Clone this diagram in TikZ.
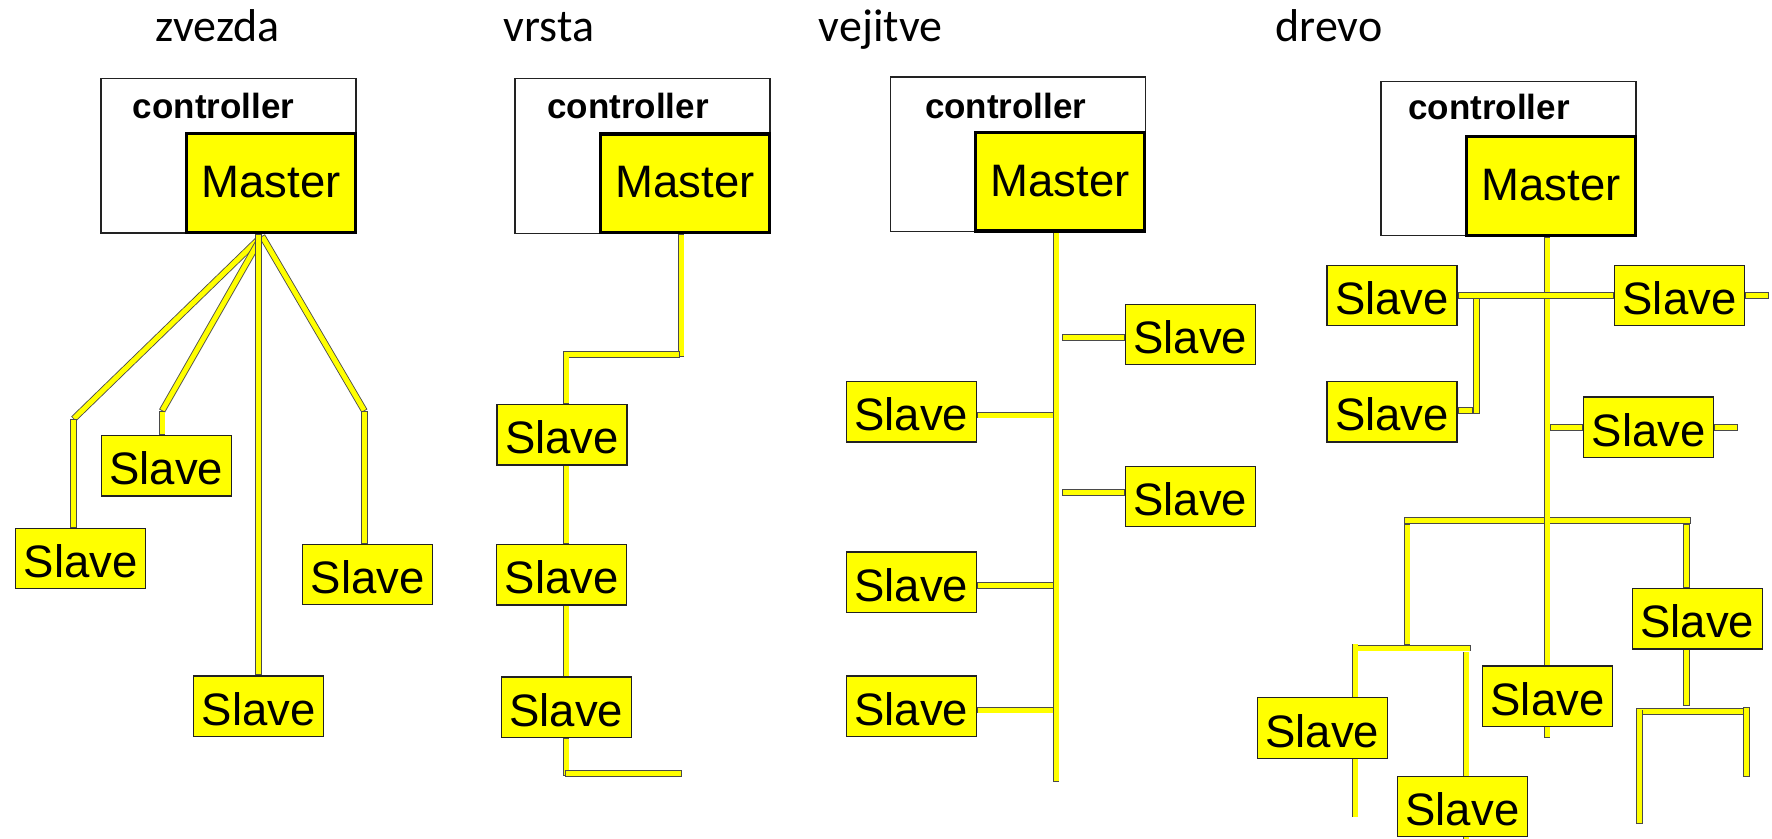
\documentclass[tikz,border=0pt]{standalone}
\usepackage{fontspec}
\setmainfont{Liberation Sans}
\newfontfamily\titlefont{Carlito}
\usetikzlibrary{backgrounds}
\definecolor{busyellow}{HTML}{FFFF00}
\definecolor{barline}{HTML}{4A4A4A}
\definecolor{boxline}{HTML}{222222}

\tikzset{
  bar/.style={draw=barline, line width=0.85pt, double=busyellow, double distance=5pt,
    line cap=rect, shorten >=3.35pt, shorten <=3.35pt},
  slave/.style={draw=boxline, line width=1.3pt, fill=busyellow, inner sep=0pt,
    minimum width=130pt, minimum height=60.5pt, text height=38pt, text depth=0pt,
    font=\fontsize{45.5}{50}\selectfont},
  master/.style={draw=black, line width=3.2pt, fill=busyellow, inner sep=0pt,
    minimum width=169pt, minimum height=98.5pt, text height=28.6pt, text depth=0pt,
    font=\fontsize{45.5}{50}\selectfont},
  ctrlbox/.style={draw=boxline, line width=1.3pt, fill=white, inner sep=0pt,
    minimum width=255pt, minimum height=154.5pt},
  ctrltext/.style={font=\fontsize{35}{40}\selectfont\bfseries, anchor=base, inner sep=0pt},
  title/.style={font=\titlefont\fontsize{46}{50}\selectfont, anchor=base, inner sep=0pt},
}

\begin{document}
\begin{tikzpicture}[x=1pt,y=-1pt]
\useasboundingbox (0,0) rectangle (1772,838);

% ---------- titles ----------
\node[title] (tz) at (217.5,41) {zvezda};
\node[title] (tv) at (549,41) {vrsta};
\node[title] (tj) at (880.5,41) {vejitve};
\node[title] (td) at (1329,41) {drevo};

% ---------- controllers with master ----------
\node[ctrlbox] (zC) at (228.5,155.8) {};
\node[ctrlbox] (vC) at (642.5,156) {};
\node[ctrlbox] (jC) at (1017.7,154.2) {};
\node[ctrlbox] (dC) at (1508.4,158.4) {};
\node[ctrltext] (zCt) at (213.5,118.3) {controller};
\node[ctrltext] (vCt) at (628,118.3) {controller};
\node[ctrltext] (jCt) at (1005.7,118.3) {controller};
\node[ctrltext] (dCt) at (1489,119.5) {controller};
\node[master] (zM) at (271,183) {Master};
\node[master] (vM) at (685,183.3) {Master};
\node[master] (jM) at (1060.3,181.7) {Master};
\node[master] (dM) at (1551.2,185.9) {Master};

% ---------- star: slaves ----------
\node[slave] (zA) at (80.7,558.5) {Slave};
\node[slave] (zB) at (166.2,465.8) {Slave};
\node[slave] (zR) at (367.8,574.5) {Slave};
\node[slave] (zD) at (258.8,706.2) {Slave};

% ---------- line: slaves ----------
\node[slave] (v1) at (562,434.7) {Slave};
\node[slave] (v2) at (561.8,574.7) {Slave};
\node[slave] (v3) at (566.3,707.3) {Slave};

% ---------- bus with branches: slaves ----------
\node[slave] (jr1) at (1190.2,334.5) {Slave};
\node[slave] (jr2) at (1190.2,496.5) {Slave};
\node[slave] (jl1) at (911.3,411.7) {Slave};
\node[slave] (jl2) at (911.3,582.2) {Slave};
\node[slave] (jl3) at (911.3,706.3) {Slave};

% ---------- tree: slaves ----------
\node[slave] (dTL) at (1392.1,295.5) {Slave};
\node[slave] (dTR) at (1679.5,295.5) {Slave};
\node[slave] (dML) at (1392.1,411.8) {Slave};
\node[slave] (dMR) at (1648.8,427.3) {Slave};
\node[slave] (dR) at (1697.2,618.6) {Slave};
\node[slave] (dCn) at (1547.5,696.2) {Slave};
\node[slave] (dLL) at (1322.3,728) {Slave};
\node[slave] (dLR) at (1462.4,806.5) {Slave};

\begin{scope}[on background layer]
\fill[white] (0,0) rectangle (1772,838);

% ----- star cables -----
\coordinate (zhub) at (262,236);
\coordinate (zkA) at (73.5,419);
\coordinate (zkB) at (162,411);
\coordinate (zkR) at (364.5,411);
\draw[bar] (zhub) -- (zkA);
\draw[bar] (zkA) -- (zkA |- zA.north);
\draw[bar] (zhub) -- (zkB);
\draw[bar] (zkB) -- (zkB |- zB.north);
\draw[bar] (zhub) -- (zkR);
\draw[bar] (zkR) -- (zkR |- zR.north);
\draw[bar] (zD.north |- zM.south) -- (zD.north);

% ----- line cables -----
\coordinate (vk1) at (681,356.7);
\coordinate (vh1) at (566,354.5);
\coordinate (vh2) at (680,354.5);
\coordinate (vk2) at (566,351);
\coordinate (vend) at (566,775.5);
\coordinate (vt1) at (565.3,773.8);
\coordinate (vt2) at (681.7,773.8);
\draw[bar] (vk1 |- vM.south) -- (vk1);
\draw[bar] (vh1) -- (vh2);
\draw[bar] (vk2) -- (vk2 |- v1.north);
\draw[bar] (vk2 |- v1.south) -- (vk2 |- v2.north);
\draw[bar] (vk2 |- v2.south) -- (vk2 |- v3.north);
\draw[bar] (vk2 |- v3.south) -- (vend);
\draw[bar] (vt1) -- (vt2);

% ----- bus with branches -----
\coordinate (jb) at (1056,781.7);
\coordinate (js1) at (1062.3,337.7);
\coordinate (js2) at (1062.3,492.7);
\coordinate (jt1) at (1054.3,415);
\coordinate (jt2) at (1054.3,585.3);
\coordinate (jt3) at (1054.3,710);
\draw[bar] (jb |- jM.south) -- (jb);
\draw[bar] (js1) -- (js1 -| jr1.west);
\draw[bar] (js2) -- (js2 -| jr2.west);
\draw[bar] (jt1 -| jl1.east) -- (jt1);
\draw[bar] (jt2 -| jl2.east) -- (jt2);
\draw[bar] (jt3 -| jl3.east) -- (jt3);

% ----- tree -----
\coordinate (dh1) at (1404.2,520.4);
\coordinate (dh2) at (1691.3,520.4);
\coordinate (dtr) at (1547,737.6);
\coordinate (dTe) at (1769.3,295.5);
\coordinate (dk) at (1473,410.7);
\coordinate (db1) at (1476.7,298);
\coordinate (db2) at (1476.7,414);
\coordinate (dms) at (1550.2,427.3);
\coordinate (dme) at (1738.2,427.3);
\coordinate (dl1) at (1407,524);
\coordinate (dl2) at (1407,644.5);
\coordinate (dr1) at (1686.6,524);
\coordinate (dr2) at (1686.6,706);
\coordinate (dq1) at (1636.3,711.5);
\coordinate (dq2) at (1749.7,711.5);
\coordinate (dq3) at (1639.7,709.5);
\coordinate (dq4) at (1639.7,824.2);
\coordinate (dq5) at (1746.3,707);
\coordinate (dq6) at (1746.3,777.3);
\coordinate (dp1) at (1352,648);
\coordinate (dp2) at (1470.7,648);
\coordinate (dp3) at (1355,643.6);
\coordinate (dp4) at (1355,817.4);
\coordinate (dp5) at (1466,651.5);
\coordinate (dp6) at (1466,845);
\draw[bar] (dh1) -- (dh2);
\draw[bar] (dtr |- dM.south) -- (dtr);
\draw[bar] (dTL.east) -- (dTR.west);
\draw[bar] (dTR.east) -- (dTe);
\draw[bar] (dk -| dML.east) -- (dk);
\draw[bar] (db1) -- (db2);
\draw[bar] (dms) -- (dMR.west);
\draw[bar] (dMR.east) -- (dme);
\draw[bar] (dl1) -- (dl2);
\draw[bar] (dr1) -- (dr1 |- dR.north);
\draw[bar] (dr1 |- dR.south) -- (dr2);
\draw[bar] (dq1) -- (dq2);
\draw[bar] (dq3) -- (dq4);
\draw[bar] (dq5) -- (dq6);
\draw[bar] (dp1) -- (dp2);
\draw[bar] (dp3) -- (dp4);
\draw[bar] (dp5) -- (dp6);
\end{scope}
\end{tikzpicture}
\end{document}
